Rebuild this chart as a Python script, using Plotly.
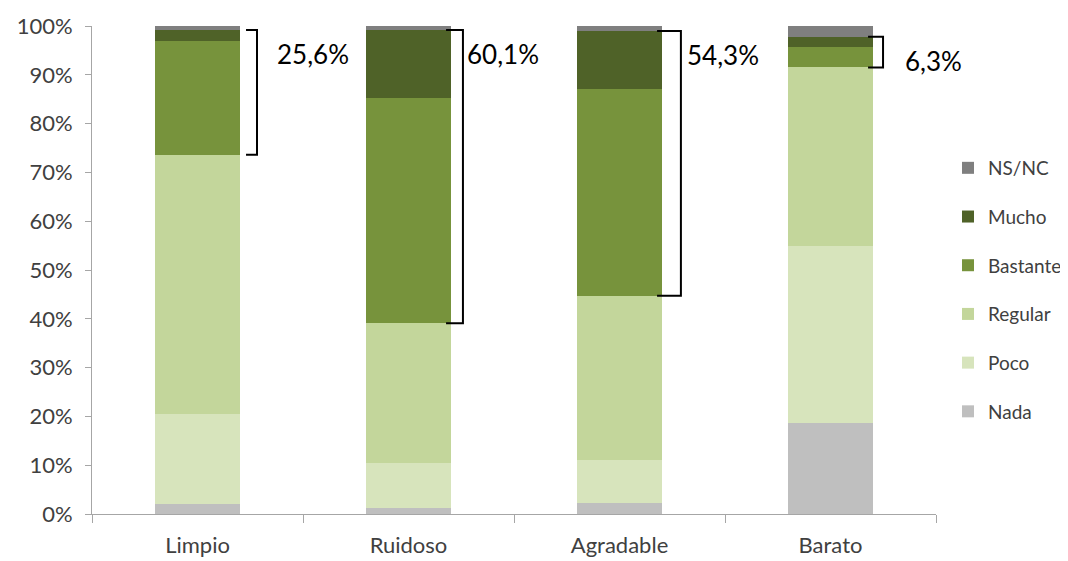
import plotly.graph_objects as go

categories = ["Limpio", "Ruidoso", "Agradable", "Barato"]
series_names = ["Nada", "Poco", "Regular", "Bastante", "Mucho", "NS/NC"]
nada = [2.1, 1.3, 2.3, 18.7]
poco = [18.3, 9.2, 8.7, 36.2]
regular = [53.2, 28.6, 33.7, 36.6]
bastante = [23.4, 46.2, 42.4, 4.2]
mucho = [2.2, 13.9, 11.9, 2.1]
nsnc = [0.8, 0.8, 1.0, 2.2]
bracket_labels = ["25,6%", "60,1%", "54,3%", "6,3%"]
tick_vals = [0, 10, 20, 30, 40, 50, 60, 70, 80, 90, 100]
tick_text = ["0%", "10%", "20%", "30%", "40%", "50%", "60%", "70%", "80%", "90%", "100%"]

colors = ["#bfbfbf", "#d7e4bc", "#c3d69b", "#77933c", "#4f6228", "#7f7f7f"]
series = [nada, poco, regular, bastante, mucho, nsnc]

FONT = "Lato"
fig = go.Figure()
n = len(series_names)
for k, (name, vals, col) in enumerate(zip(series_names, series, colors)):
    fig.add_trace(go.Bar(
        x=categories, y=vals, name=name, marker=dict(color=col, line=dict(width=0)),
        legendgroup=name, legendrank=n - k, hoverinfo="name+y",
    ))

# bracket layout constants (offsets from category centre, in category units)
bx0 = [0.23, 0.178, 0.178, 0.178]
bx1 = [0.282, 0.258, 0.291, 0.249]
label_shift = [18, 2, 4, 20]

shapes = []
annotations = []
for i, cat in enumerate(categories):
    bottom = nada[i] + poco[i] + regular[i]
    top = bottom + bastante[i] + mucho[i]
    x0 = i + bx0[i]
    x1 = i + bx1[i]
    path = f"M {x0} {top} L {x1} {top} L {x1} {bottom} L {x0} {bottom}"
    shapes.append(dict(type="path", path=path, xref="x", yref="y",
                       line=dict(color="black", width=2)))
    annotations.append(dict(x=x1, y=top, xref="x", yref="y", text=bracket_labels[i],
                            showarrow=False, xanchor="left", yanchor="top",
                            xshift=label_shift[i], yshift=-6,
                            font=dict(family=FONT, size=26, color="black")))

fig.update_layout(
    barmode="stack",
    bargap=0.6,
    width=1068, height=561,
    margin=dict(l=84, r=140, t=18, b=55, autoexpand=False),
    plot_bgcolor="white", paper_bgcolor="white",
    font=dict(family=FONT, color="#404040"),
    shapes=shapes,
    annotations=annotations,
    legend=dict(traceorder="grouped", x=1.0142, xanchor="left", y=0.748, yanchor="top",
                font=dict(family=FONT, size=19, color="#404040"),
                tracegroupgap=21, itemwidth=30, bgcolor="rgba(0,0,0,0)"),
    xaxis=dict(type="category", showline=True, linecolor="#a6a6a6", linewidth=1,
               ticks="outside", tickson="boundaries", ticklen=8, tickcolor="#a6a6a6",
               ticklabelstandoff=12,
               tickfont=dict(family=FONT, size=22, color="#404040"), range=[-0.5, 3.5]),
    yaxis=dict(range=[0, 100], tickvals=tick_vals, ticktext=tick_text, showgrid=False,
               showline=True, linecolor="#a6a6a6", linewidth=1, ticks="outside",
               ticklen=6, tickcolor="#a6a6a6", zeroline=False, ticklabelstandoff=8,
               tickfont=dict(family=FONT, size=22, color="#404040")),
)

fig.write_html("out.html")
